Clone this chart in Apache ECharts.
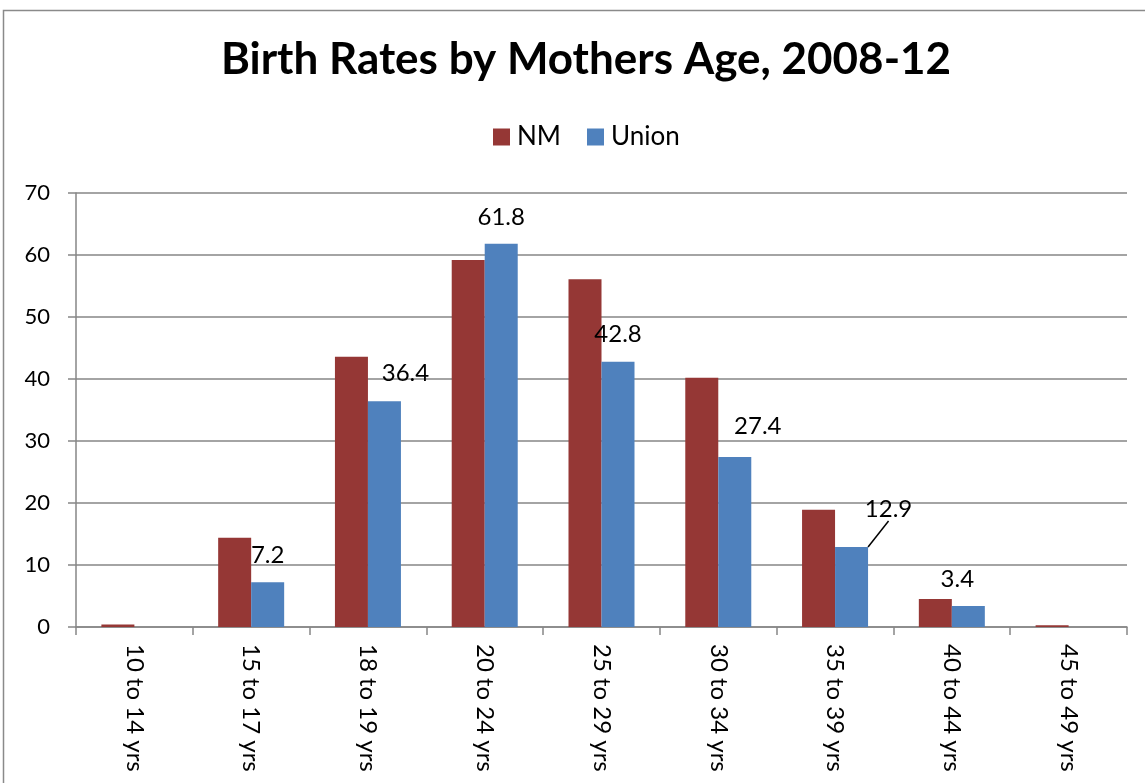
<!DOCTYPE html>
<html>
<head>
<meta charset="utf-8">
<script src="https://cdn.jsdelivr.net/npm/echarts@6/dist/echarts.min.js"></script>
<style>
  html, body { margin: 0; padding: 0; background: #fff; }
  #chart { width: 1145px; height: 783px; }
</style>
</head>
<body>
<div id="chart"></div>
<script>
// categories and values
const ageGroups = ['10 to 14 yrs', '15 to 17 yrs', '18 to 19 yrs', '20 to 24 yrs', '25 to 29 yrs',
  '30 to 34 yrs', '35 to 39 yrs', '40 to 44 yrs', '45 to 49 yrs']
const nmRates = [0.4, 14.4, 43.6, 59.2, 56.1, 40.2, 18.9, 4.5, 0.3]
const unionRates = [null, 7.2, 36.4, 61.8, 42.8, 27.4, 12.9, 3.4, null]
const yTicks = { min: 0, max: 70, step: 10 }

// Excel had some labels dragged off their default spot
const labelNudge = {
  2: [21, -1],
  5: [23, -4],
  6: [37, -11],
  7: [-11, 0]
}

const font = 'Lato, "Open Sans", sans-serif'
const gridColor = '#868686'

let myChart = echarts.init(document.getElementById('chart'))

let unionData = unionRates.map((v, i) => {
  if (i === 6) return { value: v, labelLine: { show: true, lineStyle: { color: '#000', width: 1.5 } } }
  return v
})

let option = {
  animation: false,
  textStyle: { fontFamily: font },
  title: {
    text: 'Birth Rates by Mothers Age, 2008-12',
    left: 581,
    top: 33,
    textAlign: 'center',
    textStyle: { fontSize: 44, fontWeight: 'bold', color: '#000', fontFamily: font }
  },
  legend: {
    data: ['NM', 'Union'],
    left: 488,
    top: 119,
    itemWidth: 17,
    itemHeight: 17,
    itemGap: 26,
    icon: 'rect',
    textStyle: { fontSize: 26, color: '#000', fontFamily: font, padding: [0, 0, 0, 2] }
  },
  graphic: [{
    type: 'rect',
    shape: { x: 3.5, y: 10.5, width: 1300, height: 900 },
    style: { fill: 'none', stroke: '#8a8a8a', lineWidth: 1.5 },
    silent: true,
    z: -1
  }],
  grid: { left: 76, right: 18, top: 193, bottom: 156 },
  xAxis: {
    type: 'category',
    data: ageGroups,
    boundaryGap: true,
    axisLine: { lineStyle: { color: gridColor, width: 1.5 } },
    axisTick: { show: true, length: 8, alignWithLabel: false, lineStyle: { color: gridColor, width: 1.5 } },
    axisLabel: {
      rotate: -90,
      margin: 17,
      fontSize: 24,
      color: '#000',
      fontFamily: font
    }
  },
  yAxis: {
    type: 'value',
    min: yTicks.min,
    max: yTicks.max,
    interval: yTicks.step,
    axisLine: { show: true, lineStyle: { color: gridColor, width: 1.5 } },
    axisTick: { show: true, inside: false, length: 8, lineStyle: { color: gridColor, width: 1.5 } },
    axisLabel: { margin: 26, fontSize: 22, color: '#000', fontFamily: font },
    splitLine: { show: true, lineStyle: { color: gridColor, width: 1.5 } }
  },
  series: [
    {
      name: 'NM',
      type: 'bar',
      data: nmRates,
      barWidth: 33,
      barGap: '0%',
      itemStyle: { color: '#953735' }
    },
    {
      name: 'Union',
      type: 'bar',
      data: unionData,
      barWidth: 33,
      barGap: '0%',
      itemStyle: { color: '#4F81BD' },
      label: {
        show: true,
        position: 'top',
        distance: 15,
        fontSize: 24,
        color: '#000',
        fontFamily: font
      },
      labelLine: { show: false },
      labelLayout: function (params) {
        let n = labelNudge[params.dataIndex]
        if (!n) return {}
        return { dx: n[0], dy: n[1] }
      }
    }
  ]
}

myChart.setOption(option)
</script>
</body>
</html>
